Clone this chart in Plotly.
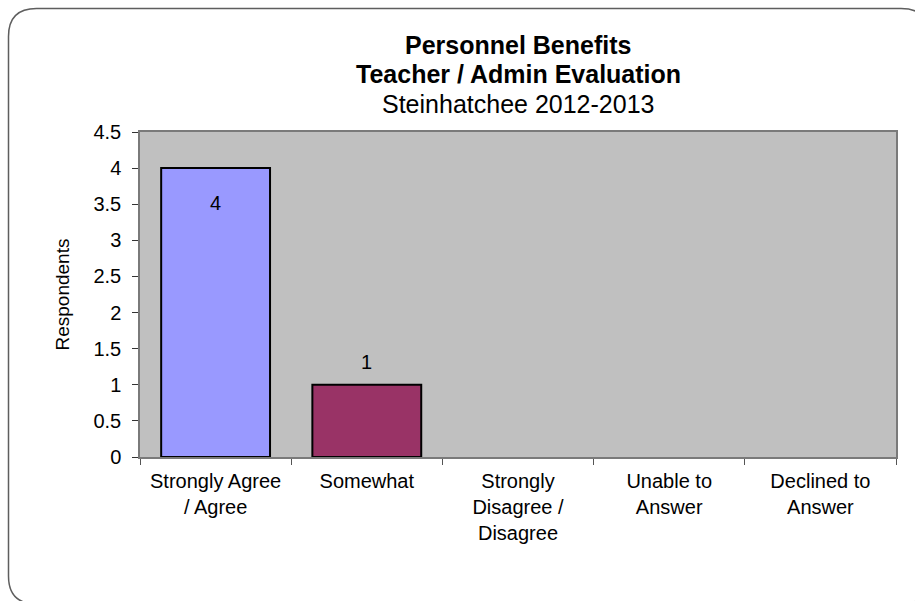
import plotly.graph_objects as go

categories = ["Strongly Agree<br>/ Agree", "Somewhat", "Strongly<br>Disagree /<br>Disagree",
              "Unable to<br>Answer", "Declined to<br>Answer"]
values = [4, 1, 0, 0, 0]
bar_colors = ["#9999FF", "#993366", "#FFFFCC", "#CCFFFF", "#660066"]
y_ticks = [0, 0.5, 1, 1.5, 2, 2.5, 3, 3.5, 4, 4.5]
y_tick_text = ["0", "0.5", "1", "1.5", "2", "2.5", "3", "3.5", "4", "4.5"]
title_lines = ["<b>Personnel Benefits</b>", "<b>Teacher / Admin Evaluation</b>", "Steinhatchee 2012-2013"]
y_title = "Respondents"

W, H = 915, 601
L, R, T, B = 140, 19, 132, 144
PW, PH = W - L - R, H - T - B

def px(x):
    return (x - L) / PW

def py(y):
    return (H - B - y) / PH

FONT = "Liberation Sans, Arial, sans-serif"

shown = [v if v > 0 else None for v in values]
fig = go.Figure(go.Bar(
    x=categories, y=shown,
    marker=dict(color=bar_colors, line=dict(color="black", width=2)),
    width=0.72, showlegend=False, hoverinfo="x+y",
))

annotations = []
for c, v in zip(categories, values):
    if v > 0:
        annotations.append(dict(
            x=c, y=v, xref="x", yref="y", text=str(v), showarrow=False,
            yshift=-35 if v >= 4 else 23,
            font=dict(family=FONT, size=20, color="black"),
        ))
annotations.append(dict(
    x=px(62), y=0.5, xref="paper", yref="paper", text=y_title, textangle=-90,
    showarrow=False, xanchor="center", yanchor="middle",
    font=dict(family=FONT, size=19, color="black"),
))
for i, line in enumerate(title_lines):
    annotations.append(dict(
        x=0.5, y=py(45 + 29.5 * i), xref="paper", yref="paper", text=line,
        showarrow=False, xanchor="center", yanchor="middle",
        font=dict(family=FONT, size=25, color="black"),
    ))

# rounded outer border
x0, y0, x1, y1, r = 8.5, 8.5, 929, 604, 28
path = (
    f"M {px(x0 + r)},{py(y0)} L {px(x1 - r)},{py(y0)} "
    f"Q {px(x1)},{py(y0)} {px(x1)},{py(y0 + r)} "
    f"L {px(x1)},{py(y1 - r)} Q {px(x1)},{py(y1)} {px(x1 - r)},{py(y1)} "
    f"L {px(x0 + r)},{py(y1)} Q {px(x0)},{py(y1)} {px(x0)},{py(y1 - r)} "
    f"L {px(x0)},{py(y0 + r)} Q {px(x0)},{py(y0)} {px(x0 + r)},{py(y0)} Z"
)

fig.update_layout(
    width=W, height=H, autosize=False,
    margin=dict(l=L, r=R, t=T, b=B),
    paper_bgcolor="white", plot_bgcolor="#C0C0C0",
    xaxis=dict(
        type="category", categoryorder="array", categoryarray=categories,
        tickson="boundaries", ticks="outside", ticklen=6, tickcolor="#555555",
        showline=True, linecolor="#7a7a7a", linewidth=1.5, mirror=True,
        showgrid=False, tickfont=dict(family=FONT, size=20, color="black"),
        ticklabelstandoff=5, range=[-0.5, 4.5],
    ),
    yaxis=dict(
        range=[0, 4.5], tickvals=y_ticks, ticktext=y_tick_text,
        ticks="outside", ticklen=6, tickcolor="#333333",
        showline=True, linecolor="#7a7a7a", linewidth=1.5, mirror=True,
        showgrid=False, zeroline=False, ticklabelstandoff=7,
        tickfont=dict(family=FONT, size=20, color="black"),
    ),
    annotations=annotations,
    shapes=[dict(type="path", path=path, xref="paper", yref="paper",
                 line=dict(color="#5e5e5e", width=1.5), layer="below")],
    bargap=0.28,
)

fig.write_html(
    "out.html",
    config={"displayModeBar": False},
    post_script="document.body.style.margin='0px';document.body.style.overflow='hidden';",
)
